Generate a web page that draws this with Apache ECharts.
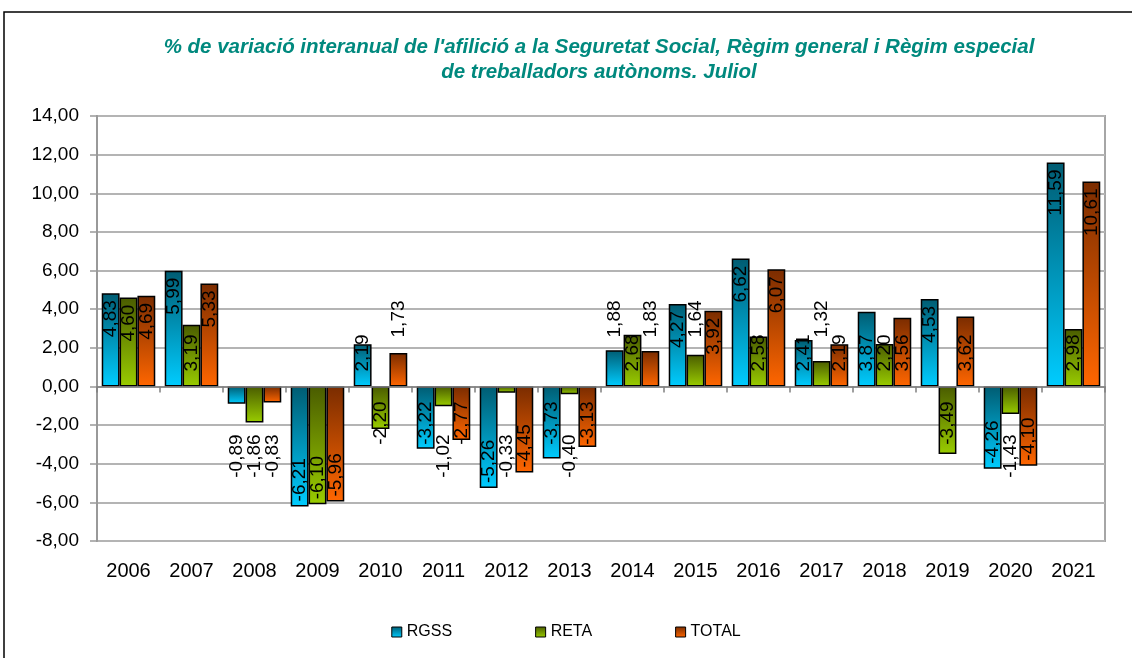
<!DOCTYPE html>
<html>
<head>
<meta charset="utf-8">
<script src="https://cdn.jsdelivr.net/npm/echarts@6/dist/echarts.min.js"></script>
<style>
  html, body { margin: 0; padding: 0; background: #fff; }
  #chart { width: 1132px; height: 658px; }
</style>
</head>
<body>
<div id="chart"></div>
<script>
const years = ['2006', '2007', '2008', '2009', '2010', '2011', '2012', '2013',
  '2014', '2015', '2016', '2017', '2018', '2019', '2020', '2021'];
const rgss = [4.83, 5.99, -0.89, -6.21, 2.19, -3.22, -5.26, -3.73, 1.88, 4.27, 6.62, 2.41, 3.87, 4.53, -4.26, 11.59];
const reta = [4.60, 3.19, -1.86, -6.10, -2.20, -1.02, -0.33, -0.40, 2.68, 1.64, 2.58, 1.32, 2.20, -3.49, -1.43, 2.98];
const total = [4.69, 5.33, -0.83, -5.96, 1.73, -2.77, -4.45, -3.13, 1.83, 3.92, 6.07, 2.19, 3.56, 3.62, -4.10, 10.61];
const seriesNames = ['RGSS', 'RETA', 'TOTAL'];

const chartDom = document.getElementById('chart');
const myChart = echarts.init(chartDom);

function fmt(v) {
  return v.toFixed(2).replace('.', ',');
}

// mimic the excel label placement: short bars get the label off the zero line
function labelFor(v) {
  const a = Math.abs(v);
  let position, align, distance;
  if (v >= 0) {
    if (a < 2) { position = 'insideBottom'; align = 'left'; distance = 49; }
    else if (a < 3.9) { position = 'insideBottom'; align = 'left'; distance = 15; }
    else { position = 'insideTop'; align = 'right'; distance = 7; }
  } else {
    if (a < 2) { position = 'insideTop'; align = 'right'; distance = 48; }
    else if (a < 3.9) { position = 'insideTop'; align = 'right'; distance = 15; }
    else { position = 'insideBottom'; align = 'left'; distance = 5; }
  }
  return { position: position, align: align, verticalAlign: 'middle', distance: distance };
}

function grad(top, bottom) {
  return new echarts.graphic.LinearGradient(0, 0, 0, 1, [
    { offset: 0, color: top },
    { offset: 1, color: bottom }
  ]);
}

const colors = [
  grad('#005c72', '#00ccff'),
  grad('#4a5c00', '#99cc00'),
  grad('#7a2c00', '#ff6600')
];

function makeSeries(name, values, color) {
  return {
    name: name,
    type: 'bar',
    xAxisIndex: 0,
    barGap: '0%',
    barCategoryGap: '15%',
    itemStyle: { color: color, borderColor: '#000', borderWidth: 1.5 },
    label: {
      show: true,
      rotate: 90,
      fontSize: 19,
      color: '#000',
      fontFamily: 'Liberation Sans, Arial, sans-serif',
      formatter: p => fmt(p.value)
    },
    data: values.map(v => ({ value: v, label: labelFor(v) }))
  };
}

const option = {
  animation: false,
  textStyle: { fontFamily: 'Liberation Sans, Arial, sans-serif' },
  title: {
    text: "% de variació interanual de l'afilició a la Seguretat Social, Règim general i Règim especial\nde treballadors autònoms. Juliol",
    left: 594,
    textAlign: 'center',
    top: 30,
    textStyle: {
      color: '#00897e',
      fontSize: 20.5,
      fontWeight: 'bold',
      fontStyle: 'italic',
      lineHeight: 25,
      fontFamily: 'Liberation Sans, Arial, sans-serif'
    }
  },
  legend: {
    data: seriesNames,
    left: 'center',
    top: 619,
    itemWidth: 10,
    itemHeight: 10,
    itemGap: 83,
    icon: 'rect',
    itemStyle: { borderColor: '#000', borderWidth: 1 },
    textStyle: { fontSize: 16, color: '#000' }
  },
  grid: {
    left: 97,
    right: 27,
    top: 116,
    bottom: 117,
    show: true,
    borderColor: '#a6a6a6',
    borderWidth: 2
  },
  xAxis: [
    {
      type: 'category',
      data: years,
      position: 'bottom',
      axisLine: { show: true, onZero: true, lineStyle: { color: '#808080', width: 1.5 } },
      axisTick: { show: true, length: 6, lineStyle: { color: '#808080', width: 1.5 } },
      axisLabel: { show: false },
      z: 5
    },
    {
      type: 'category',
      data: years,
      position: 'bottom',
      axisLine: { show: false, onZero: false },
      axisTick: { show: false },
      axisLabel: { fontSize: 20, color: '#000', margin: 20 }
    }
  ],
  yAxis: {
    type: 'value',
    min: -8,
    max: 14,
    interval: 2,
    axisLine: { show: true, lineStyle: { color: '#999', width: 2 } },
    axisTick: { show: true, length: 7, lineStyle: { color: '#999', width: 1.5 } },
    axisLabel: { fontSize: 19, color: '#000', margin: 18, formatter: v => fmt(v) },
    splitLine: { lineStyle: { color: '#b4b4b4', width: 2 } }
  },
  graphic: [
    {
      type: 'rect',
      shape: { x: 4, y: 12, width: 1140, height: 660 },
      style: { fill: 'none', stroke: '#000', lineWidth: 1.5 },
      silent: true
    }
  ],
  series: [
    makeSeries(seriesNames[0], rgss, colors[0]),
    makeSeries(seriesNames[1], reta, colors[1]),
    makeSeries(seriesNames[2], total, colors[2])
  ]
};

option && myChart.setOption(option);
</script>
</body>
</html>
